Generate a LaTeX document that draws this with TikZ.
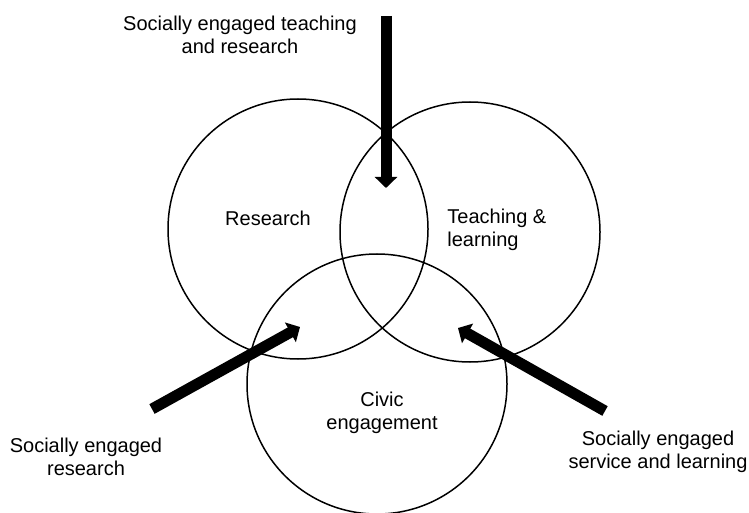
\documentclass[tikz,border=0pt]{standalone}
\usepackage{fontspec}
\setmainfont{Liberation Sans}
\usetikzlibrary{arrows.meta}
\usetikzlibrary{positioning}

\begin{document}
\begin{tikzpicture}[x=0.5pt,y=-0.5pt,
	ring/.style={line width=0.75pt},
	push/.style={line width=5.5pt, -{Triangle[length=5.5pt,width=11pt]}},
	lbl/.style={font=\fontsize{10}{11.5}\selectfont, align=center, inner sep=0pt}]
	\useasboundingbox (0,0) rectangle (749,513);
	% circle centres
	\coordinate (research) at (298,229);
	\coordinate (teaching) at (470,232);
	\coordinate (civic) at (377,384);
	% draw circles
	\draw[ring] (research) circle (65pt);
	\draw[ring] (teaching) circle (65pt);
	\draw[ring] (civic) circle (65pt);
	% circle labels
	\node[lbl] (researchlbl) at (268,218) {Research};
	\node[lbl, align=left, anchor=west] (teachlbl) at (447,230) {Teaching \&\\learning};
	\node[lbl] (civiclbl) at (382,413) {Civic\\engagement};
	% outer labels
	\node[lbl] (toplbl) at (240,35) {Socially engaged teaching\\and research};
	\node[lbl] (leftlbl) at (86,457) {Socially engaged\\research};
	\node[lbl] (rightlbl) at (658,452) {Socially engaged\\service and learning};
	% arrow ends
	\coordinate (toptail) at (386,16);
	\coordinate (toptip) at (386,188);
	\coordinate (lefttail) at (152,409);
	\coordinate (lefttip) at (300,327);
	\coordinate (righttail) at (605,411);
	\coordinate (righttip) at (458,328);
	% add arrows
	\draw[push] (toptail) -- (toptip);
	\draw[push] (lefttail) -- (lefttip);
	\draw[push] (righttail) -- (righttip);
\end{tikzpicture}
\end{document}
